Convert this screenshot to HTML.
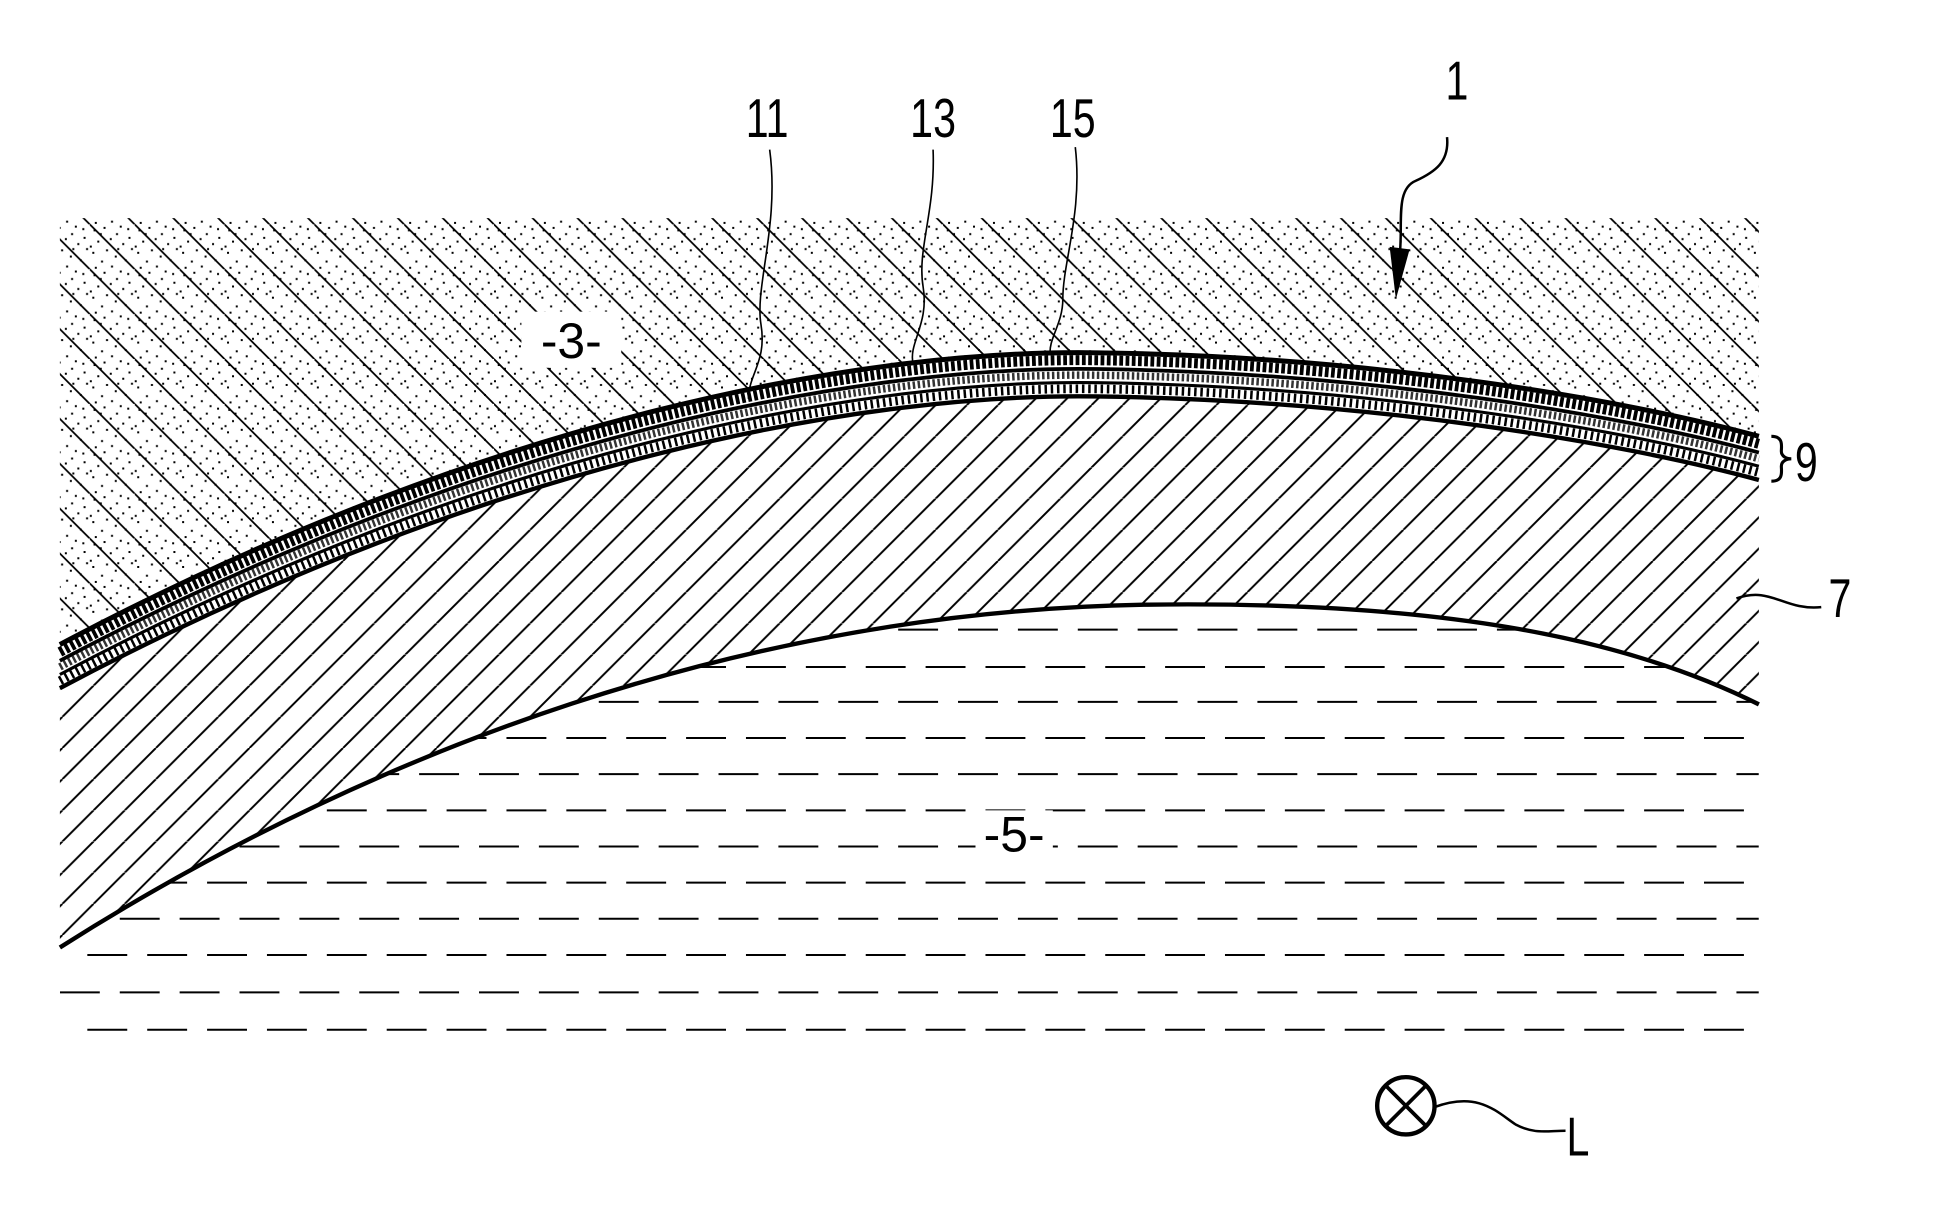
<!DOCTYPE html>
<html><head><meta charset="utf-8"><style>
html,body{margin:0;padding:0;background:#fff}
svg{display:block}
text{font-family:"Liberation Sans Narrow","Liberation Sans",sans-serif;fill:#000}
</style></head><body>
<svg width="1946" height="1218" viewBox="0 0 1560 977" preserveAspectRatio="none" xmlns="http://www.w3.org/2000/svg">
<defs>
<pattern id="p3" width="36" height="36" patternUnits="userSpaceOnUse">
<line x1="-36" y1="0" x2="36" y2="72" stroke="#000" stroke-width="1.3"/>
<line x1="0" y1="0" x2="72" y2="72" stroke="#000" stroke-width="1.3" transform="translate(-36,-36)"/>
<line x1="0" y1="0" x2="36" y2="36" stroke="#000" stroke-width="1.3"/>
<g fill="#000">
<rect x="3" y="4" width="1.6" height="1.6"/><rect x="11" y="2" width="1.6" height="1.6"/><rect x="21" y="7" width="1.6" height="1.6"/><rect x="30" y="3" width="1.6" height="1.6"/>
<rect x="6" y="13" width="1.6" height="1.6"/><rect x="16" y="11" width="1.6" height="1.6"/><rect x="26" y="15" width="1.6" height="1.6"/><rect x="33" y="19" width="1.6" height="1.6"/>
<rect x="2" y="22" width="1.6" height="1.6"/><rect x="13" y="20" width="1.6" height="1.6"/><rect x="20" y="25" width="1.6" height="1.6"/><rect x="9" y="29" width="1.6" height="1.6"/>
<rect x="28" y="28" width="1.6" height="1.6"/><rect x="17" y="33" width="1.6" height="1.6"/><rect x="4" y="34" width="1.6" height="1.6"/><rect x="24" y="1" width="1.6" height="1.6"/>
<rect x="8" y="7" width="1.6" height="1.6"/><rect x="31" y="10" width="1.6" height="1.6"/><rect x="22" y="19" width="1.6" height="1.6"/><rect x="0" y="17" width="1.6" height="1.6"/>
</g>
</pattern>
<pattern id="p7" width="25" height="25" patternUnits="userSpaceOnUse">
<line x1="0" y1="25" x2="25" y2="0" stroke="#000" stroke-width="1.6"/>
<line x1="-25" y1="25" x2="0" y2="0" stroke="#000" stroke-width="1.6"/>
<line x1="25" y1="25" x2="50" y2="0" stroke="#000" stroke-width="1.6"/>
</pattern>
<clipPath id="c5"><path d="M48,760 C300,600 600,490 920,485 C1150,482 1300,510 1410,565 V840 H48 Z"/></clipPath>
</defs>
<path d="M48,175 H1410 V350 C1300,320 1100,286 880,283 C700,280 400,330 48,517 Z" fill="url(#p3)"/>
<path d="M48,552 C400,365 700,315 880,318 C1100,321 1300,355 1410,385 V565 C1300,510 1150,482 920,485 C600,490 300,600 48,760 Z" fill="url(#p7)"/>
<g clip-path="url(#c5)" stroke="#000" stroke-width="1.6" stroke-dasharray="32 16">
<line x1="48" y1="505" x2="1410" y2="505"/><line x1="70" y1="535" x2="1410" y2="535"/>
<line x1="48" y1="563" x2="1410" y2="563"/><line x1="70" y1="592" x2="1410" y2="592"/>
<line x1="48" y1="621" x2="1410" y2="621"/><line x1="70" y1="650" x2="1410" y2="650"/>
<line x1="48" y1="679" x2="1410" y2="679"/><line x1="70" y1="708" x2="1410" y2="708"/>
<line x1="48" y1="737" x2="1410" y2="737"/><line x1="70" y1="766" x2="1410" y2="766"/>
<line x1="48" y1="796" x2="1410" y2="796"/><line x1="70" y1="826" x2="1410" y2="826"/>
</g>
<g fill="none">
<path d="M48,523 C400,336 700,286 880,289 C1100,292 1300,326 1410,356" stroke="#000" stroke-width="8" stroke-dasharray="3 2"/>
<path d="M48,535 C400,348 700,298 880,301 C1100,304 1300,338 1410,368" stroke="#000" stroke-width="6" stroke-dasharray="2 2" opacity="0.8"/>
<path d="M48,546 C400,359 700,309 880,312 C1100,315 1300,349 1410,379" stroke="#000" stroke-width="7" stroke-dasharray="2 3"/>
<path d="M48,517 C400,330 700,280 880,283 C1100,286 1300,320 1410,350" stroke="#000" stroke-width="4"/>
<path d="M48,530 C400,343 700,293 880,296 C1100,299 1300,333 1410,363" stroke="#000" stroke-width="3"/>
<path d="M48,541 C400,354 700,304 880,307 C1100,310 1300,344 1410,374" stroke="#000" stroke-width="2.5"/>
<path d="M48,552 C400,365 700,315 880,318 C1100,321 1300,355 1410,385" stroke="#000" stroke-width="3.5"/>
<path d="M48,760 C300,600 600,490 920,485 C1150,482 1300,510 1410,565" stroke="#000" stroke-width="3.5"/>
</g>
<rect x="418" y="250" width="80" height="45" fill="#fff"/>
<text x="458" y="287" font-size="40" text-anchor="middle">-3-</text>
<rect x="782" y="650" width="62" height="40" fill="#fff"/>
<text x="813" y="683" font-size="40" text-anchor="middle">-5-</text>
<g fill="none" stroke="#000" stroke-width="1.3">
<path d="M617,120 C625,180 605,230 610,260 C615,290 600,300 600,320"/>
<path d="M748,120 C750,170 735,200 740,230 C745,260 728,275 732,292"/>
<path d="M862,118 C868,170 852,210 852,240 C852,260 840,272 842,285"/>
<path d="M1160,110 C1162,130 1150,138 1135,145 C1118,152 1125,180 1122,205" stroke-width="2"/>
<path d="M1392,480 C1420,470 1430,490 1460,487" stroke-width="2"/>
<path d="M1150,888 C1185,875 1200,892 1215,902 C1230,910 1240,907 1255,907" stroke-width="2"/>
</g>
<path d="M1114,198 L1130,200 L1119,240 Z" fill="#000"/>
<circle cx="1127" cy="887" r="23" fill="#fff" stroke="#000" stroke-width="3.5"/>
<line x1="1111" y1="871" x2="1143" y2="903" stroke="#000" stroke-width="3"/>
<line x1="1143" y1="871" x2="1111" y2="903" stroke="#000" stroke-width="3"/>
<g font-size="44">
<text x="615" y="110" text-anchor="middle" transform="translate(615,110) scale(0.75,1) translate(-615,-110)">11</text>
<text x="748" y="110" text-anchor="middle" transform="translate(748,110) scale(0.75,1) translate(-748,-110)">13</text>
<text x="860" y="110" text-anchor="middle" transform="translate(860,110) scale(0.75,1) translate(-860,-110)">15</text>
<text x="1168" y="80" text-anchor="middle" transform="translate(1168,80) scale(0.75,1) translate(-1168,-80)">1</text>
<text x="1475" y="495" text-anchor="middle" transform="translate(1475,495) scale(0.75,1) translate(-1475,-495)">7</text>
<text x="1448" y="386" text-anchor="middle" transform="translate(1448,386) scale(0.75,1) translate(-1448,-386)">9</text>
<text x="1265" y="927" text-anchor="middle" transform="translate(1265,927) scale(0.75,1) translate(-1265,-927)">L</text>
</g>
<path d="M1420,350 C1430,350 1428,358 1428,362 C1428,366 1432,368 1436,368 C1432,368 1428,370 1428,374 C1428,378 1430,386 1420,386" fill="none" stroke="#000" stroke-width="2.5"/>
</svg>
</body></html>
